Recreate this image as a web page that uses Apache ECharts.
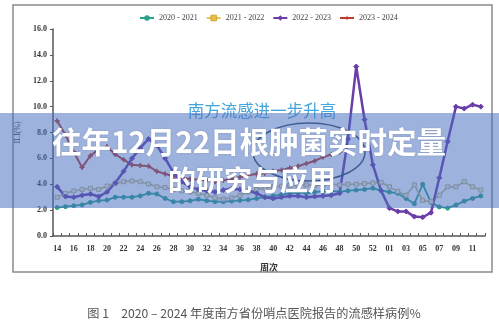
<!DOCTYPE html>
<html>
<head>
<meta charset="utf-8">
<script src="https://cdn.jsdelivr.net/npm/echarts@6/dist/echarts.min.js"></script>
<style>
  html, body { margin: 0; padding: 0; background: #ffffff; }
  #chart { width: 499px; height: 322px; }
</style>
</head>
<body>
<div id="chart"></div>
<script>
// Surveillance weeks: week 14 through week 53, then 01 to 12 of the next year
const weeks = ['14','15','16','17','18','19','20','21','22','23','24','25','26','27','28','29','30','31','32','33',
  '34','35','36','37','38','39','40','41','42','43','44','45','46','47','48','49','50','51','52','53',
  '01','02','03','04','05','06','07','08','09','10','11','12'];

const seasonNames = ['2020 - 2021', '2021 - 2022', '2022 - 2023', '2023 - 2024'];

// ILI percentage per week, one array per season
const ili2020 = [2.2, 2.27, 2.34, 2.4, 2.6, 2.73, 2.78, 3.0, 3.0, 3.0, 3.1, 3.3, 3.25, 2.9, 2.65, 2.65, 2.72, 2.84, 2.73, 2.65,
  2.65, 2.7, 2.75, 2.8, 2.9, 3.0, 3.1, 3.2, 3.3, 3.35, 3.3, 3.4, 3.45, 3.5, 3.4, 3.5, 3.55, 3.6, 3.7, 3.5,
  3.4, 3.3, 2.9, 2.5, 4.0, 2.6, 2.25, 2.15, 2.4, 2.7, 2.9, 3.1];
const ili2021 = [3.0, 3.3, 3.48, 3.6, 3.68, 3.6, 3.86, 4.07, 4.2, 4.25, 4.2, 4.02, 3.81, 3.75, 3.6, 3.5, 3.42, 3.3, 3.15, 2.95,
  2.85, 2.95, 3.15, 3.4, 3.6, 3.7, 3.8, 3.85, 3.9, 3.9, 3.95, 3.9, 3.95, 4.0, 3.95, 4.0, 4.0, 4.05, 4.1, 4.15,
  3.8, 3.45, 3.15, 3.95, 2.75, 2.65, 3.15, 3.8, 3.8, 4.2, 3.8, 3.55];
const ili2022 = [3.8, 3.05, 3.0, 3.15, 3.25, 3.05, 3.4, 4.1, 5.0, 6.0, 6.8, 7.5, 7.0, 6.0, 4.9, 4.2, 3.8, 3.6, 3.5, 3.4,
  3.55, 3.65, 3.6, 3.5, 3.3, 3.0, 2.9, 3.0, 3.1, 3.1, 3.0, 3.05, 3.1, 3.15, 3.3, 7.5, 13.1, 9.0, 5.5, 3.5,
  2.15, 1.9, 1.9, 1.5, 1.45, 1.8, 4.5, 7.3, 10.0, 9.85, 10.15, 10.0];
const ili2023 = [8.9, 7.8, 6.5, 5.3, 6.2, 6.7, 6.9, 6.3, 5.9, 5.5, 5.45, 5.4, 5.0, 4.8, 4.6, 4.5, 4.4, 4.35, 4.3, 4.2,
  4.3, 4.4, 4.55, 4.7, 4.8, 4.85, 5.0, 5.1, 5.25, 5.4, 5.6, 5.8, 6.1, 6.3, 6.5, null, null, null, null, null,
  null, null, null, null, null, null, null, null, null, null, null, null];

const serif = '"Liberation Serif", "DejaVu Serif", serif';
const cjk = '"Noto Sans CJK SC", "Noto Sans", sans-serif';
const starPath = 'path://M0,-10 L2.5,-2.5 L10,0 L2.5,2.5 L0,10 L-2.5,2.5 L-10,0 L-2.5,-2.5 Z';

const chart = echarts.init(document.getElementById('chart'), null, { renderer: 'canvas' });

function lineSeries(name, data, color, symbol, size, width, extra) {
  return Object.assign({
    name: name,
    type: 'line',
    data: data,
    symbol: symbol,
    symbolSize: size,
    showSymbol: true,
    connectNulls: false,
    lineStyle: { color: color, width: width },
    itemStyle: { color: color, borderColor: color },
    emphasis: { disabled: true }
  }, extra || {});
}

chart.setOption({
  animation: false,
  backgroundColor: '#ffffff',
  grid: { left: 53, right: 14, top: 29, bottom: 86, containLabel: false, outerBoundsMode: 'none' },
  legend: {
    left: 139,
    top: 14,
    padding: 0,
    itemWidth: 14,
    itemHeight: 7,
    itemGap: 8,
    itemTextGap: 4,
    textStyle: { fontFamily: serif, fontSize: 8, color: '#444' },
    data: [
      { name: seasonNames[0] },
      { name: seasonNames[1],
        itemStyle: { color: '#e8c040', borderColor: '#c9a83a', borderWidth: 1 },
        lineStyle: { color: '#e3c660' } },
      { name: seasonNames[2] },
      { name: seasonNames[3] }
    ]
  },
  xAxis: {
    type: 'category',
    data: weeks,
    boundaryGap: true,
    axisLine: { lineStyle: { color: '#555', width: 1.5 } },
    axisTick: { show: true, interval: 0, inside: true, length: 3, lineStyle: { color: '#555', width: 1 } },
    axisLabel: { interval: 1, fontFamily: serif, fontWeight: 'bold', fontSize: 8, color: '#333', margin: 9 },
    splitLine: { show: false },
    name: '周次',
    nameLocation: 'middle',
    nameGap: 27,
    nameTextStyle: { fontFamily: cjk, fontSize: 9, fontWeight: 'bold', color: '#333' }
  },
  yAxis: {
    type: 'value',
    min: 0,
    max: 16,
    interval: 2,
    axisLine: { show: true, lineStyle: { color: '#555', width: 1.5 } },
    axisTick: { show: true, inside: false, length: 3, lineStyle: { color: '#555' } },
    axisLabel: { formatter: v => v.toFixed(1), fontFamily: serif, fontWeight: 'bold', fontSize: 8, color: '#333', margin: 6 },
    splitLine: { show: false },
    name: 'ILI(%)',
    nameLocation: 'middle',
    nameGap: 30,
    nameRotate: 90,
    nameTextStyle: { fontFamily: serif, fontSize: 8, color: '#333' }
  },
  series: [
    lineSeries(seasonNames[0], ili2020, '#2ba08c', 'circle', 4, 1.8),
    lineSeries(seasonNames[1], ili2021, '#c4bb8c', 'rect', 4, 1.6,
      { itemStyle: { color: '#f3efdf', borderColor: '#bdb27c', borderWidth: 1 } }),
    lineSeries(seasonNames[3], ili2023, '#c0392b', starPath, 5, 2),
    lineSeries(seasonNames[2], ili2022, '#6a3da8', 'diamond', 5, 2.5)
  ],
  graphic: [
    // outer frame of the figure panel
    { type: 'rect', silent: true, z: 1,
      shape: { x: 13, y: 5, width: 479, height: 267 },
      style: { fill: null, stroke: '#8a8a8a', lineWidth: 1.5 } },
    // highlighted region around the late-autumn rise
    { type: 'ellipse', silent: true, z: 50,
      shape: { cx: 309, cy: 152, rx: 56, ry: 29 },
      style: { fill: null, stroke: '#3c4866', lineWidth: 1.5 } },
    { type: 'text', silent: true, z: 50,
      style: { text: '南方流感进一步升高', x: 262, y: 111, align: 'center', verticalAlign: 'middle',
               font: '16.5px ' + cjk, fill: '#45a6dc' } },
    // translucent headline band
    { type: 'rect', silent: true, z: 100,
      shape: { x: 0, y: 113, width: 499, height: 95 },
      style: { fill: 'rgba(70,110,190,0.53)' } },
    { type: 'text', silent: true, z: 110,
      style: { text: '往年12月22日根肿菌实时定量', x: 249, y: 142, align: 'center', verticalAlign: 'middle',
               font: 'bold 29.5px ' + cjk, fill: '#ffffff',
               textShadowColor: 'rgba(0,0,0,0.18)', textShadowBlur: 2 } },
    { type: 'text', silent: true, z: 110,
      style: { text: '的研究与应用', x: 252, y: 180, align: 'center', verticalAlign: 'middle',
               font: 'bold 28px ' + cjk, fill: '#ffffff',
               textShadowColor: 'rgba(0,0,0,0.18)', textShadowBlur: 2 } },
    // figure caption
    { type: 'text', silent: true, z: 10,
      style: { text: '图 1　2020 – 2024 年度南方省份哨点医院报告的流感样病例%', x: 254, y: 313,
               align: 'center', verticalAlign: 'middle', font: '12.2px ' + cjk, fill: '#555' } }
  ]
});
</script>
</body>
</html>
